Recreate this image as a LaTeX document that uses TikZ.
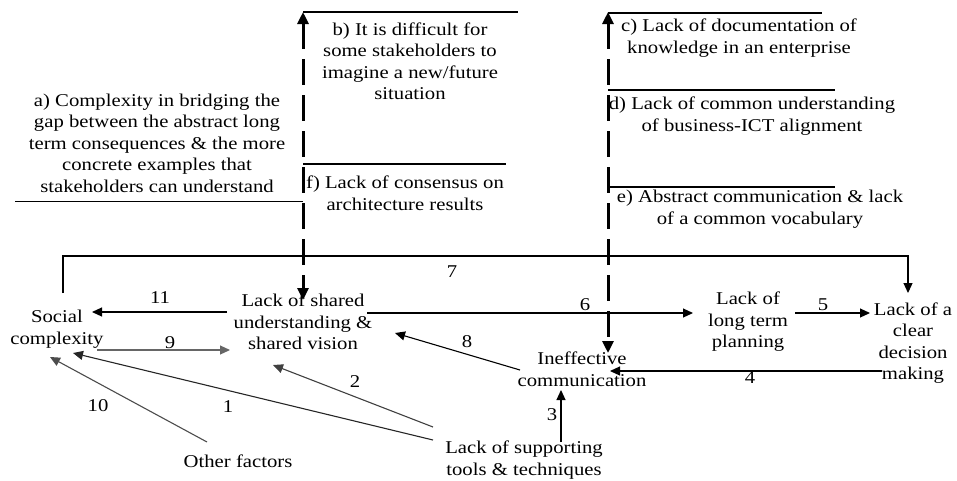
\documentclass[tikz,border=0pt]{standalone}
\usepackage{fontspec}
\setmainfont{Liberation Serif}[FakeStretch=1.15]
\usetikzlibrary{arrows.meta}
\begin{document}
\begin{tikzpicture}[x=1pt,y=-1pt,
  txt/.style={inner sep=0pt,align=center,font=\fontsize{18}{21.5}\selectfont},
  lbl/.style={inner sep=0pt,font=\fontsize{18}{21.5}\selectfont},
  arr/.style={line width=1.1pt,-{Triangle[length=10pt,width=9pt]}},
  thin/.style={line width=1.1pt},
  bigarr/.style={line width=3pt,dash pattern=on 26pt off 10pt,{Triangle[length=12pt,width=11pt]}-{Triangle[length=12pt,width=11pt]}}]
\useasboundingbox (0,0) rectangle (957,480);
% problem statements
\node[txt] (ta) at (157,143) {a) Complexity in bridging the\\gap between the abstract long\\term consequences \& the more\\concrete examples that\\stakeholders can understand};
\node[txt] (tb) at (410,61) {b) It is difficult for\\some stakeholders to\\imagine a new/future\\situation};
\node[txt] (tf) at (405,193) {f) Lack of consensus on\\architecture results};
\node[txt] (tc) at (739,38) {c) Lack of documentation of\\knowledge in an enterprise};
\node[txt] (td) at (752,116) {d) Lack of common understanding\\of business-ICT alignment};
\node[txt] (te) at (760,209) {e) Abstract communication \& lack\\of a common vocabulary};
% separating lines
\draw[thin] (303,12) -- (518,12);
\draw[thin] (303,164) -- (506,164);
\draw[thin] (15,201.5) -- (303,201.5);
\draw[thin] (608,13) -- (822,13);
\draw[thin] (608,90) -- (835,90);
\draw[thin] (608,187) -- (835,187);
% main nodes
\node[txt] (soc) at (57,329) {Social\\complexity};
\node[txt] (lsu) at (303,322) {Lack of shared\\understanding \&\\shared vision};
\node[txt] (ltp) at (748,322) {Lack of\\long term\\planning};
\node[txt] (lcd) at (913,343) {Lack of a\\clear\\decision\\making};
\node[txt] (ine) at (582,369) {Ineffective\\communication};
\node[txt] (lst) at (524,460) {Lack of supporting\\tools \& techniques};
\node[txt] (oth) at (238,461) {Other factors};
% big dashed arrows
\coordinate (topL) at (303,12);
\coordinate (topR) at (608,12);
\draw[bigarr] (topL) -- ([shift={(0,-22)}]lsu.center);
\draw[bigarr] (topR) -- ([shift={(26,-16)}]ine.center);
% connectors
\draw[arr] ([shift={(6,-36)}]soc.center) -- ++(0,-37) -| ([shift={(-5,-50)}]lcd.center);
\draw[arr] ([shift={(-76,-10)}]lsu.center) -- ([shift={(35,-17)}]soc.center);
\draw[arr] ([shift={(64,-9)}]lsu.center) -- ([shift={(-55,-9)}]ltp.center);
\draw[arr] ([shift={(47,-9)}]ltp.center) -- ([shift={(-43,-30)}]lcd.center);
\draw[arr] ([shift={(-31,28)}]lcd.center) -- ([shift={(28,2)}]ine.center);
\draw[arr] ([shift={(37,-18)}]lst.center) -- ([shift={(-21,21)}]ine.center);
\draw[arr] ([shift={(-62,1)}]ine.center) -- ([shift={(92,11)}]lsu.center);
\draw[arr,black!60] ([shift={(40,21)}]soc.center) -- ([shift={(-73,28)}]lsu.center);
\draw[arr,black!75] ([shift={(-91,-33)}]lst.center) -- ([shift={(-30,43)}]lsu.center);
\draw[arr,black!85] ([shift={(-91,-20)}]lst.center) -- ([shift={(16,24)}]soc.center);
\draw[arr,black!70] ([shift={(-31,-19)}]oth.center) -- ([shift={(-7,28)}]soc.center);
% labels
\node[lbl] (l7) at (452,272) {7};
\node[lbl] (l11) at (160,298) {11};
\node[lbl] (l6) at (585,305) {6};
\node[lbl] (l5) at (823,305) {5};
\node[lbl] (l4) at (750,378) {4};
\node[lbl] (l3) at (552,415) {3};
\node[lbl] (l8) at (467,342) {8};
\node[lbl,fill=white,inner xsep=3pt] (l9) at (170,343) {9};
\node[lbl] (l2) at (355,382) {2};
\node[lbl] (l1) at (228,407) {1};
\node[lbl] (l10) at (98,406) {10};
\end{tikzpicture}
\end{document}
